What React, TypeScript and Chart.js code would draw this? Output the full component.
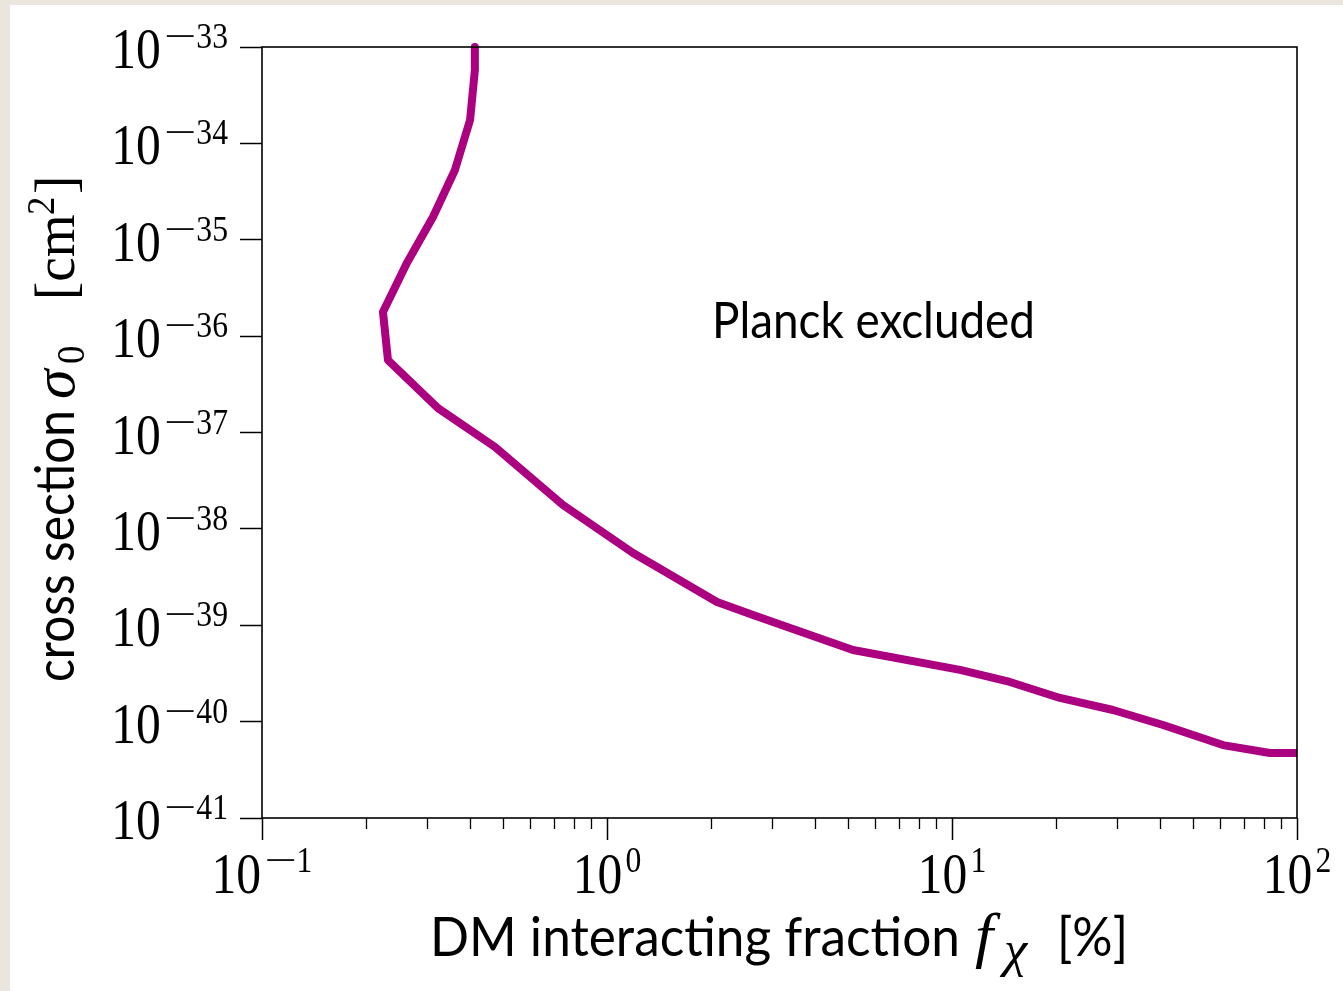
import React, { useEffect, useRef } from 'react';
import { Chart, registerables } from 'chart.js';

Chart.register(...registerables);

// ---- data ----
const fractionPercent = [
  0.414, 0.414, 0.401, 0.3625, 0.313, 0.263, 0.2242, 0.2318, 0.3236, 0.4736, 0.7455,
  1.19, 2.084, 2.65, 5.164, 10.55, 14.72, 20.56, 29.29, 40.9, 61.0, 83.5, 100,
];
const crossSectionCm2 = [
  1e-33, 5.77e-34, 1.75e-34, 5.3e-35, 1.72e-35, 5.74e-36, 1.78e-36, 5.65e-37, 1.79e-37,
  7.08e-38, 1.77e-38, 5.62e-39, 1.74e-39, 1.28e-39, 5.53e-40, 3.44e-40, 2.58e-40,
  1.76e-40, 1.32e-40, 9.23e-41, 5.71e-41, 4.72e-41, 4.72e-41,
];
const xTickExponents = [-1, 0, 1, 2];
const yTickExponents = [-41, -40, -39, -38, -37, -36, -35, -34, -33];
const minorMultipliers = [2, 3, 4, 5, 6, 7, 8, 9];
const annotationText = 'Planck excluded';
const xTitleText = 'DM interacting fraction';
const yTitleText = 'cross section';

const SERIF = "'Liberation Serif', 'DejaVu Serif', serif";
const SANS = "Lato, 'DejaVu Sans', sans-serif";
const LINE_COLOR = '#ab0080';

function measure(ctx: CanvasRenderingContext2D, s: string, font: string, sx = 1) {
  ctx.font = font;
  return ctx.measureText(s).width * sx;
}

function drawText(
  ctx: CanvasRenderingContext2D,
  s: string,
  x: number,
  y: number,
  font: string,
  sx = 1
) {
  ctx.save();
  ctx.font = font;
  ctx.textAlign = 'left';
  ctx.textBaseline = 'alphabetic';
  ctx.translate(x, y);
  ctx.scale(sx, 1);
  ctx.fillText(s, 0, 0);
  ctx.restore();
  return measure(ctx, s, font, sx);
}

function drawFit(
  ctx: CanvasRenderingContext2D,
  s: string,
  x: number,
  y: number,
  font: string,
  width: number
) {
  const w = measure(ctx, s, font, 1);
  return drawText(ctx, s, x, y, font, width / w);
}

const MAIN_FONT = `57px ${SERIF}`;
const MAIN_SX = 0.87;
const SUP_FONT = `36px ${SERIF}`;
const SUP_SX = 0.88;
const MINUS_SX = 1.6;

function powerParts(ctx: CanvasRenderingContext2D, exp: number) {
  const w10 = measure(ctx, '10', MAIN_FONT, MAIN_SX);
  const neg = exp < 0;
  const digits = String(Math.abs(exp));
  const wMinus = neg ? measure(ctx, '\u2212', SUP_FONT, MINUS_SX) : 0;
  const wDig = measure(ctx, digits, SUP_FONT, SUP_SX);
  const total = w10 + 3 + (neg ? wMinus : 0) + wDig;
  return { w10, neg, digits, wMinus, wDig, total };
}

function drawPower(
  ctx: CanvasRenderingContext2D,
  exp: number,
  x0: number,
  baseY: number,
  supY: number
) {
  const p = powerParts(ctx, exp);
  drawText(ctx, '10', x0, baseY, MAIN_FONT, MAIN_SX);
  let x = x0 + p.w10 + 3;
  if (p.neg) {
    drawText(ctx, '\u2212', x, supY, SUP_FONT, MINUS_SX);
    x += p.wMinus;
  }
  drawText(ctx, p.digits, x, supY, SUP_FONT, SUP_SX);
}

const decorPlugin = {
  id: 'decor',
  beforeDraw(chart: any) {
    const { ctx, width, height } = chart;
    ctx.save();
    ctx.fillStyle = '#ebe6dd';
    ctx.fillRect(0, 0, width, height);
    ctx.fillStyle = '#ffffff';
    ctx.fillRect(10, 5, width - 10, height - 5);
    ctx.restore();
  },
  afterDatasetsDraw(chart: any) {
    const { ctx, chartArea } = chart;
    const xs = chart.scales.x;
    ctx.save();
    ctx.strokeStyle = '#000';
    ctx.lineWidth = 1.6;
    ctx.strokeRect(
      chartArea.left,
      chartArea.top,
      chartArea.right - chartArea.left,
      chartArea.bottom - chartArea.top
    );
    ctx.lineWidth = 1.3;
    ctx.beginPath();
    for (let i = 0; i < xTickExponents.length - 1; i++) {
      const e = xTickExponents[i];
      for (const m of minorMultipliers) {
        const px = Math.round(xs.getPixelForValue(m * 10 ** e)) + 0.5;
        ctx.moveTo(px, chartArea.bottom);
        ctx.lineTo(px, chartArea.bottom + 11);
      }
    }
    ctx.stroke();
    ctx.restore();
  },
  afterDraw(chart: any) {
    const { ctx } = chart;
    const xs = chart.scales.x;
    const ys = chart.scales.y;
    ctx.save();
    ctx.fillStyle = '#000';
    for (const e of yTickExponents) {
      const py = ys.getPixelForValue(10 ** e);
      const p = powerParts(ctx, e);
      drawPower(ctx, e, 228 - p.total, py + 21, py + 1);
    }
    for (const e of xTickExponents) {
      const px = xs.getPixelForValue(10 ** e);
      const p = powerParts(ctx, e);
      drawPower(ctx, e, px - p.total / 2, 893, 872);
    }
    // x title
    const sansT = `55px ${SANS}`;
    drawFit(ctx, xTitleText, 430, 956, sansT, 530);
    drawText(ctx, 'f', 975, 956, `italic 62px ${SERIF}`, 1.05);
    drawText(ctx, '\u03c7', 1004, 966, `italic 50px ${SERIF}`, 1.05);
    drawFit(ctx, '[%]', 1057, 956, sansT, 71);

    // y title (rotated)
    ctx.save();
    ctx.translate(74, 682);
    ctx.rotate(-Math.PI / 2);
    drawFit(ctx, yTitleText, 0, 0, sansT, 272);
    drawText(ctx, '\u03c3', 283, 0, `italic 60px ${SERIF}`, 1);
    drawText(ctx, '0', 318, 10, `40px ${SERIF}`, 0.92);
    drawText(ctx, '[cm', 382, 0, `58px ${SERIF}`, 0.95);
    drawText(ctx, '2', 467, -20, `40px ${SERIF}`, 0.92);
    drawText(ctx, ']', 488, 0, `58px ${SERIF}`, 0.95);
    ctx.restore();

    drawFit(ctx, annotationText, 712, 338, `50px ${SANS}`, 323);
    ctx.restore();
  },
};

export default function App() {
  const canvasRef = useRef<HTMLCanvasElement | null>(null);

  useEffect(() => {
    const canvas = canvasRef.current;
    if (!canvas) return;
    const points = fractionPercent.map((x, i) => ({ x, y: crossSectionCm2[i] }));
    const chart = new Chart(canvas, {
      type: 'scatter',
      data: {
        datasets: [
          {
            data: points,
            showLine: true,
            borderColor: LINE_COLOR,
            backgroundColor: LINE_COLOR,
            borderWidth: 8,
            borderJoinStyle: 'round',
            borderCapStyle: 'butt',
            pointRadius: 0,
            tension: 0,
            clip: false,
          } as any,
        ],
      },
      options: {
        animation: false,
        responsive: false,
        devicePixelRatio: 1,
        events: [],
        layout: { padding: { left: 0, top: 47, right: 46, bottom: 0 } },
        plugins: { legend: { display: false }, tooltip: { enabled: false }, title: { display: false } },
        scales: {
          x: {
            type: 'logarithmic',
            position: 'bottom',
            min: 0.1,
            max: 100,
            afterBuildTicks: (s: any) => {
              s.ticks = xTickExponents.map((e) => ({ value: 10 ** e }));
            },
            afterFit: (s: any) => {
              s.height = 173;
            },
            ticks: { display: false },
            grid: {
              display: true,
              drawOnChartArea: false,
              drawTicks: true,
              tickLength: 22,
              tickWidth: 1.5,
              tickColor: '#000',
            },
            border: { display: false },
          },
          y: {
            type: 'logarithmic',
            position: 'left',
            min: 1e-41,
            max: 1e-33,
            afterBuildTicks: (s: any) => {
              s.ticks = yTickExponents.map((e) => ({ value: 10 ** e }));
            },
            afterFit: (s: any) => {
              s.width = 262;
            },
            ticks: { display: false },
            grid: {
              display: true,
              drawOnChartArea: false,
              drawTicks: true,
              tickLength: 22,
              tickWidth: 1.5,
              tickColor: '#000',
            },
            border: { display: false },
          },
        } as any,
      },
      plugins: [decorPlugin],
    });
    return () => chart.destroy();
  }, []);

  return (
    <canvas
      ref={canvasRef}
      width={1343}
      height={991}
      style={{ position: 'absolute', left: 0, top: 0, width: 1343, height: 991 }}
    />
  );
}
